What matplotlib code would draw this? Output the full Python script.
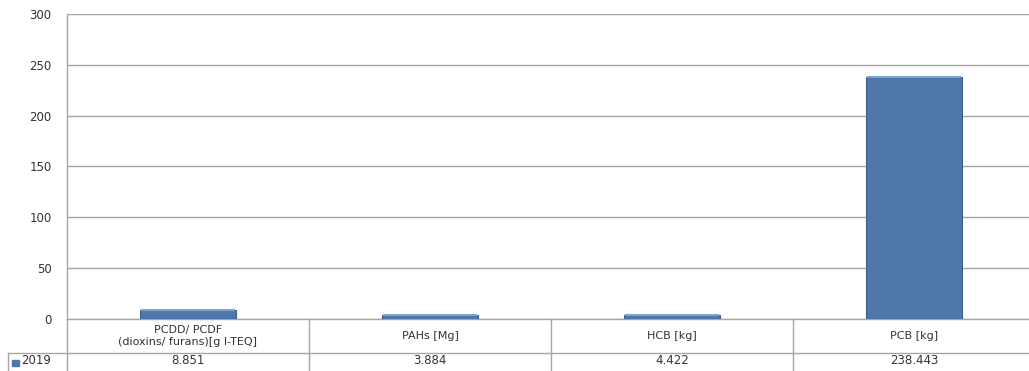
import matplotlib.pyplot as plt
import matplotlib.transforms as mtransforms
from matplotlib.patches import Rectangle

# POP emissions, 2019
categorias = ['PCDD/ PCDF\n(dioxins/ furans)[g I-TEQ]', 'PAHs [Mg]', 'HCB [kg]', 'PCB [kg]']
valores = [8.851, 3.884, 4.422, 238.443]
etiquetas = ['8.851', '3.884', '4.422', '238.443']
serie = '2019'
yticks = [0, 50, 100, 150, 200, 250, 300]

W, H = 1029, 371
fig = plt.figure(figsize=(W / 100, H / 100), dpi=100)
ax = fig.add_axes([67 / W, (H - 319) / H, (1035 - 67) / W, (319 - 14) / H])

color_barra = '#4f77a9'
color_linea = '#a6a6a6'
color_texto = '#333333'

x = list(range(len(categorias)))
barras = ax.bar(x, valores, width=0.4, color=color_barra, edgecolor='#3b5f8c', linewidth=0.8, zorder=3)
# borde superior mas claro
for b in barras:
    ax.plot([b.get_x() + 0.004, b.get_x() + b.get_width() - 0.004], [b.get_height()] * 2,
            color='#7fa3cf', lw=1.5, zorder=4, solid_capstyle='butt')

ax.set_xlim(-0.5, len(categorias) - 0.5)
ax.set_ylim(0, 300)
ax.set_yticks(yticks)
ax.set_yticklabels([str(v) for v in yticks], fontsize=8.5, color=color_texto)
ax.tick_params(axis='y', length=0, pad=11)
ax.set_xticks([])
ax.grid(axis='y', color=color_linea, linewidth=1, zorder=0)
for lado in ['top', 'right', 'bottom']:
    ax.spines[lado].set_visible(False)
ax.spines['left'].set_color(color_linea)
ax.spines['left'].set_linewidth(1)

# tabla de datos debajo del grafico
trans = mtransforms.blended_transform_factory(ax.transData, fig.transFigure)
y0 = (H - 319) / H
y1 = (H - 353) / H
y2 = 0.0
xi = -0.5
xf = len(categorias) - 0.5
ax.plot([xi, xf], [y0, y0], transform=trans, color=color_linea, lw=1, clip_on=False)
ax.plot([xi, xf], [y1, y1], transform=trans, color=color_linea, lw=1, clip_on=False)
for i in range(len(categorias) + 1):
    ax.plot([i - 0.5, i - 0.5], [y0, y2], transform=trans, color=color_linea, lw=1, clip_on=False)

# celda de la leyenda
fig.add_artist(plt.Line2D([8 / W, 67 / W], [y1, y1], color=color_linea, lw=1))
fig.add_artist(plt.Line2D([8 / W, 8 / W], [y1, y2], color=color_linea, lw=1))
fig.add_artist(Rectangle((12 / W, (H - 366) / H), 7 / W, 6 / H, color=color_barra))
fig.text(21 / W, (y1 + y2) / 2 + 0.003, serie, fontsize=8.5, color=color_texto, va='center', ha='left')

for i, (cat, txt) in enumerate(zip(categorias, etiquetas)):
    ax.text(i, (y0 + y1) / 2, cat, transform=trans, ha='center', va='center',
            fontsize=8, color=color_texto, linespacing=1.35)
    ax.text(i, (y1 + y2) / 2 + 0.003, txt, transform=trans, ha='center', va='center',
            fontsize=8.5, color=color_texto)

fig.savefig('out.png', dpi=100)
